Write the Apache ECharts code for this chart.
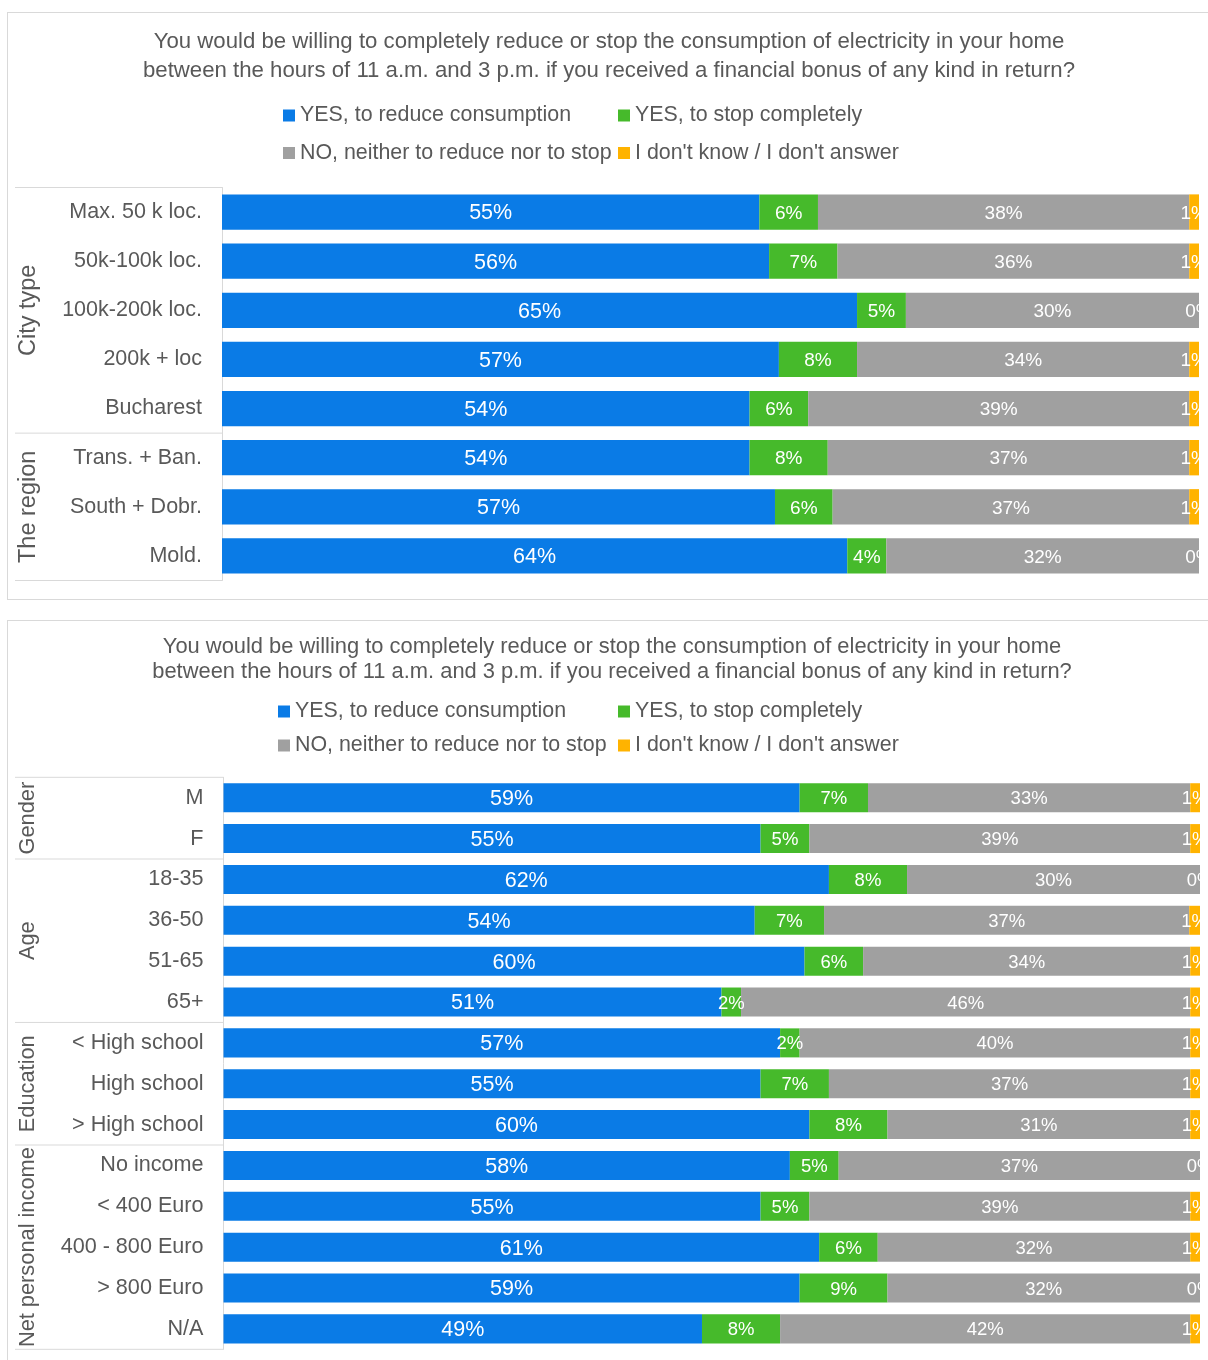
<!DOCTYPE html>
<html><head><meta charset="utf-8">
<script src="https://cdn.jsdelivr.net/npm/echarts@6/dist/echarts.min.js"></script>
<style>
html,body{margin:0;padding:0;background:#fff;width:1208px;height:1360px;overflow:hidden;}
.frame{position:absolute;border:1px solid #d9d9d9;box-sizing:border-box;}
.chart{position:absolute;left:0;width:1208px;}
</style></head><body>
<div class="frame" style="left:7px;top:12px;width:1230px;height:588px"></div>
<div class="frame" style="left:7px;top:620px;width:1230px;height:780px"></div>
<div id="c1" class="chart" style="top:0;height:605px"></div>
<div id="c2" class="chart" style="top:610px;height:750px"></div>
<script>
const titleText = 'You would be willing to completely reduce or stop the consumption of electricity in your home\nbetween the hours of 11 a.m. and 3 p.m. if you received a financial bonus of any kind in return?';
const seriesNames = ['YES, to reduce consumption', 'YES, to stop completely', 'NO, neither to reduce nor to stop', "I don't know / I don't answer"];
const colors = ['#0A7BE6', '#46BA2B', '#A0A0A0', '#FFB300'];

// Panel 1
const categories1 = ['Max. 50 k loc.', '50k-100k loc.', '100k-200k loc.', '200k + loc', 'Bucharest', 'Trans. + Ban.', 'South + Dobr.', 'Mold.'];
const groupNames1 = ['City type', 'The region'];
const groupSizes1 = [5, 3];
const reduce1 = [55, 56, 65, 57, 54, 54, 56.6, 64];
const stop1 = [6, 7, 5, 8, 6, 8, 5.9, 4];
const no1 = [38, 36, 30, 34, 39, 37, 36.5, 32];
const dontKnow1 = [1, 1, 0, 1, 1, 1, 1, 0];

// Panel 2
const categories2 = ['M', 'F', '18-35', '36-50', '51-65', '65+', '< High school', 'High school', '> High school', 'No income', '< 400 Euro', '400 - 800 Euro', '> 800 Euro', 'N/A'];
const groupNames2 = ['Gender', 'Age', 'Education', 'Net personal income'];
const groupSizes2 = [2, 4, 3, 5];
const reduce2 = [59, 55, 62, 54.4, 59.5, 51, 57, 55, 60, 58, 55, 61, 59, 49];
const stop2 = [7, 5, 8, 7.1, 6, 2, 2, 7, 8, 5, 5, 6, 9, 8];
const no2 = [33, 39, 30, 37.4, 33.5, 46, 40, 37, 31, 37, 39, 32, 32, 42];
const dontKnow2 = [1, 1, 0, 1.1, 1, 1, 1, 1, 1, 0, 1, 1, 0, 1];

const FONT = '"Liberation Sans", Arial, Helvetica, sans-serif';
const TXT = '#595959';

function build(el, cfg) {
  const chart = echarts.init(el, null, {renderer: 'canvas'});
  const dataSets = cfg.values;
  const legends = seriesNames.map((n, i) => ({
    data: [n], left: cfg.legendX[i % 2], top: cfg.legendY[Math.floor(i / 2)],
    icon: 'rect', itemWidth: 12, itemHeight: 12, padding: 0, itemGap: 0,
    selectedMode: false,
    textStyle: {fontSize: cfg.legendFont, color: TXT, fontFamily: FONT, lineHeight: 22}
  }));
  chart.setOption({
    animation: false,
    color: colors,
    title: {
      text: titleText, left: cfg.titleX, top: cfg.titleTop, textAlign: 'center', padding: 0,
      textStyle: {fontSize: cfg.titleFont, fontWeight: 'normal', color: TXT, fontFamily: FONT, lineHeight: cfg.titleLH}
    },
    legend: legends,
    grid: {left: cfg.grid.left, right: cfg.grid.right, top: cfg.grid.top, height: cfg.grid.height, containLabel: false},
    xAxis: {type: 'value', min: 0, max: 100, show: false},
    yAxis: {
      type: 'category', inverse: true, data: cfg.categories,
      axisLine: {show: true, lineStyle: {color: '#d9d9d9', width: 1}},
      axisTick: {show: false},
      axisLabel: {fontSize: cfg.catFont, color: TXT, fontFamily: FONT, margin: cfg.catMargin}
    },
    series: seriesNames.map((n, i) => ({
      name: n, type: 'bar', stack: 'total', barWidth: cfg.barWidth,
      data: dataSets[i],
      itemStyle: {color: colors[i]},
      emphasis: {disabled: true},
      label: {
        show: true, position: 'inside', offset: [0, 1.5], color: '#fff',
        fontSize: i === 0 ? cfg.labelFontMain : cfg.labelFont, fontFamily: FONT,
        formatter: p => Math.round(p.value) + '%'
      }
    }))
  });
  // group separators and rotated group names, positioned via the category scale
  const c0 = chart.convertToPixel({yAxisIndex: 0}, 0);
  const c1 = chart.convertToPixel({yAxisIndex: 0}, 1);
  const band = c1 - c0;
  const xAxisPix = chart.convertToPixel({xAxisIndex: 0}, 0);
  const graphics = [];
  let idx = 0;
  const edge = k => c0 - band / 2 + k * band;
  graphics.push({type: 'line', shape: {x1: cfg.boxLeft, y1: edge(0), x2: xAxisPix, y2: edge(0)}, style: {stroke: '#d9d9d9', lineWidth: 1}, silent: true});
  cfg.groupSizes.forEach((s, g) => {
    const top = edge(idx), bot = edge(idx + s);
    graphics.push({type: 'line', shape: {x1: cfg.boxLeft, y1: bot, x2: xAxisPix, y2: bot}, style: {stroke: '#d9d9d9', lineWidth: 1}, silent: true});
    graphics.push({
      type: 'text', x: cfg.groupX, y: (top + bot) / 2, rotation: Math.PI / 2, silent: true,
      style: {text: cfg.groupNames[g], fill: TXT, fontSize: cfg.groupFont, fontFamily: FONT,
        align: 'center', verticalAlign: 'middle', textAlign: 'center', textVerticalAlign: 'middle'}
    });
    idx += s;
  });
  chart.setOption({graphic: graphics});
  return chart;
}

build(document.getElementById('c1'), {
  categories: categories1, groupNames: groupNames1, groupSizes: groupSizes1,
  values: [reduce1, stop1, no1, dontKnow1],
  titleX: 609, titleTop: 27.5, titleFont: 22.2, titleLH: 29,
  legendX: [283, 618], legendY: [104.5, 142], legendFont: 21.4,
  grid: {left: 222, right: 9, top: 187.5, height: 393},
  catFont: 21.5, catMargin: 20, labelFont: 19, labelFontMain: 21.5, barWidth: '72%',
  boxLeft: 15, groupX: 29, groupFont: 23.5
});
build(document.getElementById('c2'), {
  categories: categories2, groupNames: groupNames2, groupSizes: groupSizes2,
  values: [reduce2, stop2, no2, dontKnow2],
  titleX: 612, titleTop: 24, titleFont: 21.9, titleLH: 25,
  legendX: [278, 618], legendY: [90.5, 124.5], legendFont: 21.4,
  grid: {left: 223.5, right: 8, top: 167.3, height: 572},
  catFont: 21.6, catMargin: 20, labelFont: 18.5, labelFontMain: 21.5, barWidth: '71%',
  boxLeft: 15, groupX: 28, groupFont: 21.8
});
</script>
</body></html>
